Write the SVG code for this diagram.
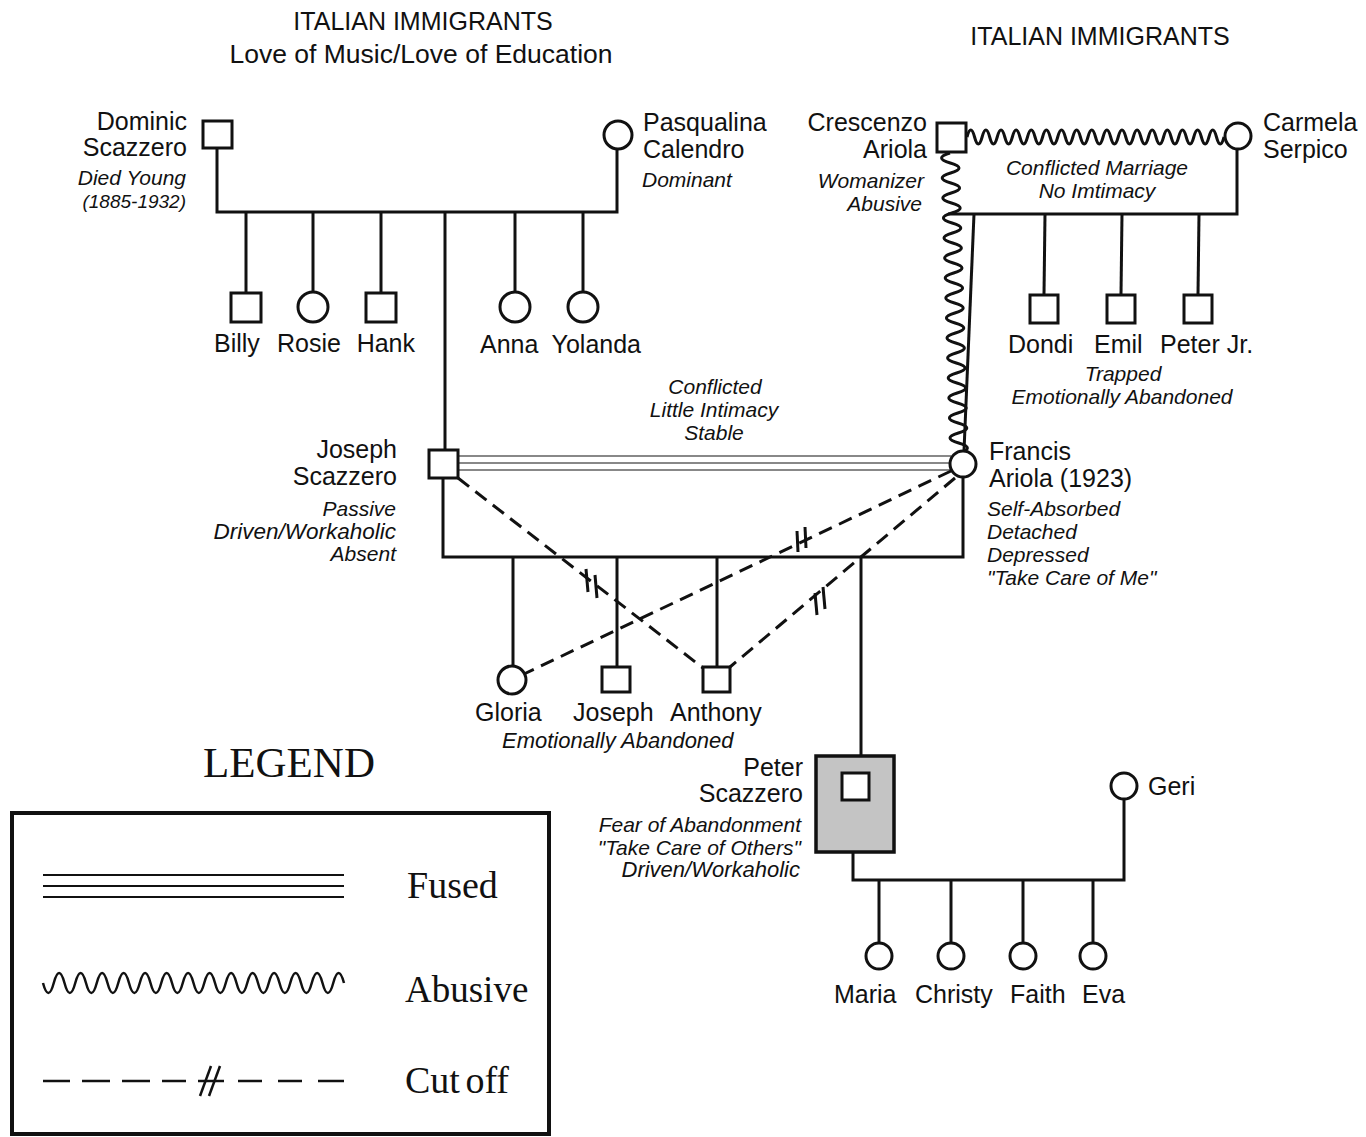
<svg xmlns="http://www.w3.org/2000/svg" width="1366" height="1137" viewBox="0 0 1366 1137">
<style>
.n{font-family:"Liberation Sans",Arial,sans-serif;font-size:25px;fill:#111}
.i{font-family:"Liberation Sans",Arial,sans-serif;font-size:21px;font-style:italic;fill:#111}
.s{font-family:"Liberation Serif","Times New Roman",serif;fill:#111}
.sym{fill:#fff;stroke:#111;stroke-width:3}
.ln{fill:none;stroke:#111;stroke-width:3}
.wv{fill:none;stroke:#111;stroke-width:3}
.fu{fill:none;stroke:#888;stroke-width:2.2}
.ds{fill:none;stroke:#111;stroke-width:3;stroke-dasharray:14 8}
.cm{stroke:#111;stroke-width:3}
.e{text-anchor:end}
.m{text-anchor:middle}
</style>
<rect width="1366" height="1137" fill="#fff"/>

<g id="headers">
<text class="n m" x="423" y="30">ITALIAN IMMIGRANTS</text>
<text class="n m" x="421" y="63" style="font-size:26.5px">Love of Music/Love of Education</text>
<text class="n m" x="1100" y="45">ITALIAN IMMIGRANTS</text>
</g>

<g id="connectors">
<polyline class="ln" points="217,148 217,212 617,212 617,149"/>
<line class="ln" x1="246" y1="212" x2="246" y2="293"/>
<line class="ln" x1="313" y1="212" x2="313" y2="292"/>
<line class="ln" x1="381" y1="212" x2="381" y2="293"/>
<line class="ln" x1="515" y1="212" x2="515" y2="292"/>
<line class="ln" x1="583" y1="212" x2="583" y2="292"/>
<line class="ln" x1="445" y1="212" x2="445" y2="450"/>
<path class="wv" d="M967,137 q3.78,-14 7.56,0 t7.56,0 t7.56,0 t7.56,0 t7.56,0 t7.56,0 t7.56,0 t7.56,0 t7.56,0 t7.56,0 t7.56,0 t7.56,0 t7.56,0 t7.56,0 t7.56,0 t7.56,0 t7.56,0 t7.56,0 t7.56,0 t7.56,0 t7.56,0 t7.56,0 t7.56,0 t7.56,0 t7.56,0 t7.56,0 t7.56,0 t7.56,0 t7.56,0 t7.56,0 t7.56,0 t7.56,0 t7.56,0 t7.56,0"/>
<polyline class="ln" points="948,214 1237,214 1237,150"/>
<line class="ln" x1="974" y1="214" x2="964" y2="451"/>
<path class="wv" d="M950,153 q-17,5 0.3,10 t0.3,10 t0.3,10 t0.3,10 t0.3,10 t0.3,10 t0.3,10 t0.3,10 t0.3,10 t0.3,10 t0.3,10 t0.3,10 t0.3,10 t0.3,10 t0.3,10 t0.3,10 t0.3,10 t0.3,10 t0.3,10 t0.3,10 t0.3,10 t0.3,10 t0.3,10 t0.3,10 t0.3,10 t0.3,10 t0.3,10 t0.3,10 t0.3,10 t0.3,10"/>
<line class="ln" x1="1045" y1="214" x2="1044" y2="295"/>
<line class="ln" x1="1122" y1="214" x2="1121" y2="295"/>
<line class="ln" x1="1199" y1="214" x2="1198" y2="295"/>
<line class="fu" x1="458" y1="456" x2="951" y2="456"/>
<line class="fu" x1="458" y1="463" x2="950" y2="463"/>
<line class="fu" x1="458" y1="470" x2="951" y2="470"/>
<polyline class="ln" points="443,478 443,557 963,557 963,477"/>
<line class="ln" x1="513" y1="557" x2="513" y2="666"/>
<line class="ln" x1="617" y1="557" x2="617" y2="667"/>
<line class="ln" x1="717" y1="557" x2="717" y2="667"/>
<line class="ln" x1="861" y1="557" x2="861" y2="756"/>
<line class="ds" x1="458" y1="478" x2="703" y2="668"/>
<line class="ds" x1="951" y1="471" x2="524" y2="674"/>
<line class="ds" x1="955" y1="478" x2="730" y2="667"/>
<line class="cm" x1="586" y1="569" x2="588" y2="592"/>
<line class="cm" x1="595" y1="575" x2="597" y2="598"/>
<line class="cm" x1="797" y1="531" x2="798" y2="552"/>
<line class="cm" x1="805" y1="527" x2="806" y2="548"/>
<line class="cm" x1="815" y1="593" x2="817" y2="615"/>
<line class="cm" x1="823" y1="587" x2="825" y2="609"/>
<polyline class="ln" points="853,852 853,880 1124,880 1124,799"/>
<line class="ln" x1="879" y1="880" x2="879" y2="943"/>
<line class="ln" x1="951" y1="880" x2="951" y2="943"/>
<line class="ln" x1="1023" y1="880" x2="1023" y2="943"/>
<line class="ln" x1="1093" y1="880" x2="1093" y2="943"/>
</g>

<g id="dominic">
<rect class="sym" x="203" y="121" width="29" height="27"/>
<text class="n e" x="187" y="130">Dominic</text>
<text class="n e" x="187" y="156">Scazzero</text>
<text class="i e" x="186" y="185">Died Young</text>
<text class="i e" x="186" y="208" style="font-size:19px">(1885-1932)</text>
</g>
<g id="pasqualina">
<circle class="sym" cx="618" cy="135" r="14"/>
<text class="n" x="643" y="131">Pasqualina</text>
<text class="n" x="643" y="158">Calendro</text>
<text class="i" x="642" y="187">Dominant</text>
</g>
<g id="billy"><rect class="sym" x="231" y="293" width="30" height="29"/><text class="n" x="214" y="352">Billy</text></g>
<g id="rosie"><circle class="sym" cx="313" cy="307" r="15"/><text class="n" x="277" y="352">Rosie</text></g>
<g id="hank"><rect class="sym" x="366" y="293" width="30" height="29"/><text class="n e" x="415" y="352">Hank</text></g>
<g id="anna"><circle class="sym" cx="515" cy="307" r="15"/><text class="n" x="480" y="353">Anna</text></g>
<g id="yolanda"><circle class="sym" cx="583" cy="307" r="15"/><text class="n e" x="641" y="353">Yolanda</text></g>

<g id="crescenzo">
<rect class="sym" x="937" y="123" width="29" height="29"/>
<text class="n e" x="927" y="131">Crescenzo</text>
<text class="n e" x="927" y="158">Ariola</text>
<text class="i e" x="924" y="188">Womanizer</text>
<text class="i e" x="922" y="211">Abusive</text>
</g>
<g id="carmela">
<circle class="sym" cx="1238" cy="136" r="13"/>
<text class="n" x="1263" y="131">Carmela</text>
<text class="n" x="1263" y="158">Serpico</text>
</g>
<g id="marriage-label">
<text class="i m" x="1097" y="175">Conflicted Marriage</text>
<text class="i m" x="1097" y="198">No Imtimacy</text>
</g>
<g id="dondi"><rect class="sym" x="1030" y="295" width="28" height="28"/><text class="n" x="1008" y="353">Dondi</text></g>
<g id="emil"><rect class="sym" x="1107" y="295" width="28" height="28"/><text class="n" x="1094" y="353">Emil</text></g>
<g id="peterjr"><rect class="sym" x="1184" y="295" width="28" height="28"/><text class="n" x="1160" y="353">Peter Jr.</text></g>
<g id="ariola-sons-label">
<text class="i m" x="1123" y="381">Trapped</text>
<text class="i m" x="1122" y="404">Emotionally Abandoned</text>
</g>

<g id="joseph-francis-label">
<text class="i m" x="715" y="394">Conflicted</text>
<text class="i m" x="714" y="417">Little Intimacy</text>
<text class="i m" x="714" y="440">Stable</text>
</g>
<g id="joseph">
<rect class="sym" x="429" y="450" width="29" height="28"/>
<text class="n e" x="397" y="458">Joseph</text>
<text class="n e" x="397" y="485">Scazzero</text>
<text class="i e" x="396" y="516">Passive</text>
<text class="i e" x="396" y="539" style="font-size:22.5px">Driven/Workaholic</text>
<text class="i e" x="396" y="561">Absent</text>
</g>
<g id="francis">
<circle class="sym" cx="963" cy="464" r="13"/>
<text class="n" x="989" y="460">Francis</text>
<text class="n" x="989" y="487">Ariola (1923)</text>
<text class="i" x="987" y="516">Self-Absorbed</text>
<text class="i" x="987" y="539">Detached</text>
<text class="i" x="987" y="562">Depressed</text>
<text class="i" x="987" y="585">"Take Care of Me"</text>
</g>

<g id="gloria"><circle class="sym" cx="512" cy="680" r="14"/><text class="n" x="475" y="721">Gloria</text></g>
<g id="joseph-jr"><rect class="sym" x="602" y="667" width="28" height="25"/><text class="n" x="573" y="721">Joseph</text></g>
<g id="anthony"><rect class="sym" x="703" y="667" width="27" height="25"/><text class="n" x="670" y="721">Anthony</text></g>
<g id="siblings-label"><text class="i" x="502" y="748" style="font-size:22px">Emotionally Abandoned</text></g>

<g id="peter">
<rect x="816" y="756" width="78" height="96" fill="#c4c4c4" stroke="#111" stroke-width="3.5"/>
<rect class="sym" x="842" y="773" width="27" height="27"/>
<text class="n e" x="803" y="776">Peter</text>
<text class="n e" x="803" y="802">Scazzero</text>
<text class="i e" x="801" y="832">Fear of Abandonment</text>
<text class="i e" x="801" y="855">"Take Care of Others"</text>
<text class="i e" x="800" y="877" style="font-size:22px">Driven/Workaholic</text>
</g>
<g id="geri"><circle class="sym" cx="1124" cy="786" r="13"/><text class="n" x="1148" y="795">Geri</text></g>
<g id="maria"><circle class="sym" cx="879" cy="956" r="13"/><text class="n" x="834" y="1003">Maria</text></g>
<g id="christy"><circle class="sym" cx="951" cy="956" r="13"/><text class="n" x="915" y="1003">Christy</text></g>
<g id="faith"><circle class="sym" cx="1023" cy="956" r="13"/><text class="n" x="1010" y="1003">Faith</text></g>
<g id="eva"><circle class="sym" cx="1093" cy="956" r="13"/><text class="n" x="1082" y="1003">Eva</text></g>

<g id="legend">
<text class="s" x="203" y="777" style="font-size:43px">LEGEND</text>
<rect x="12" y="813" width="537" height="321" fill="none" stroke="#111" stroke-width="4"/>
<line x1="43" y1="875" x2="344" y2="875" stroke="#111" stroke-width="2.2"/>
<line x1="43" y1="886" x2="344" y2="886" stroke="#111" stroke-width="2.2"/>
<line x1="43" y1="897" x2="344" y2="897" stroke="#111" stroke-width="2.2"/>
<text class="s" x="407" y="898" style="font-size:38px">Fused</text>
<path fill="none" stroke="#111" stroke-width="2.5" d="M43,983 q5.37,20 10.75,0 t10.75,0 t10.75,0 t10.75,0 t10.75,0 t10.75,0 t10.75,0 t10.75,0 t10.75,0 t10.75,0 t10.75,0 t10.75,0 t10.75,0 t10.75,0 t10.75,0 t10.75,0 t10.75,0 t10.75,0 t10.75,0 t10.75,0 t10.75,0 t10.75,0 t10.75,0 t10.75,0 t10.75,0 t10.75,0 t10.75,0 t10.75,0"/>
<text class="s" x="405" y="1002" style="font-size:37px">Abusive</text>
<g stroke="#111" stroke-width="2.5">
<line x1="43" y1="1081" x2="70" y2="1081"/>
<line x1="82" y1="1081" x2="110" y2="1081"/>
<line x1="122" y1="1081" x2="150" y2="1081"/>
<line x1="162" y1="1081" x2="186" y2="1081"/>
<line x1="200" y1="1096" x2="211" y2="1066"/>
<line x1="209" y1="1096" x2="220" y2="1066"/>
<line x1="198" y1="1081" x2="224" y2="1081"/>
<line x1="238" y1="1081" x2="262" y2="1081"/>
<line x1="278" y1="1081" x2="302" y2="1081"/>
<line x1="318" y1="1081" x2="344" y2="1081"/>
</g>
<text class="s" x="405" y="1093" style="font-size:38px;word-spacing:-4px">Cut off</text>
</g>
</svg>
